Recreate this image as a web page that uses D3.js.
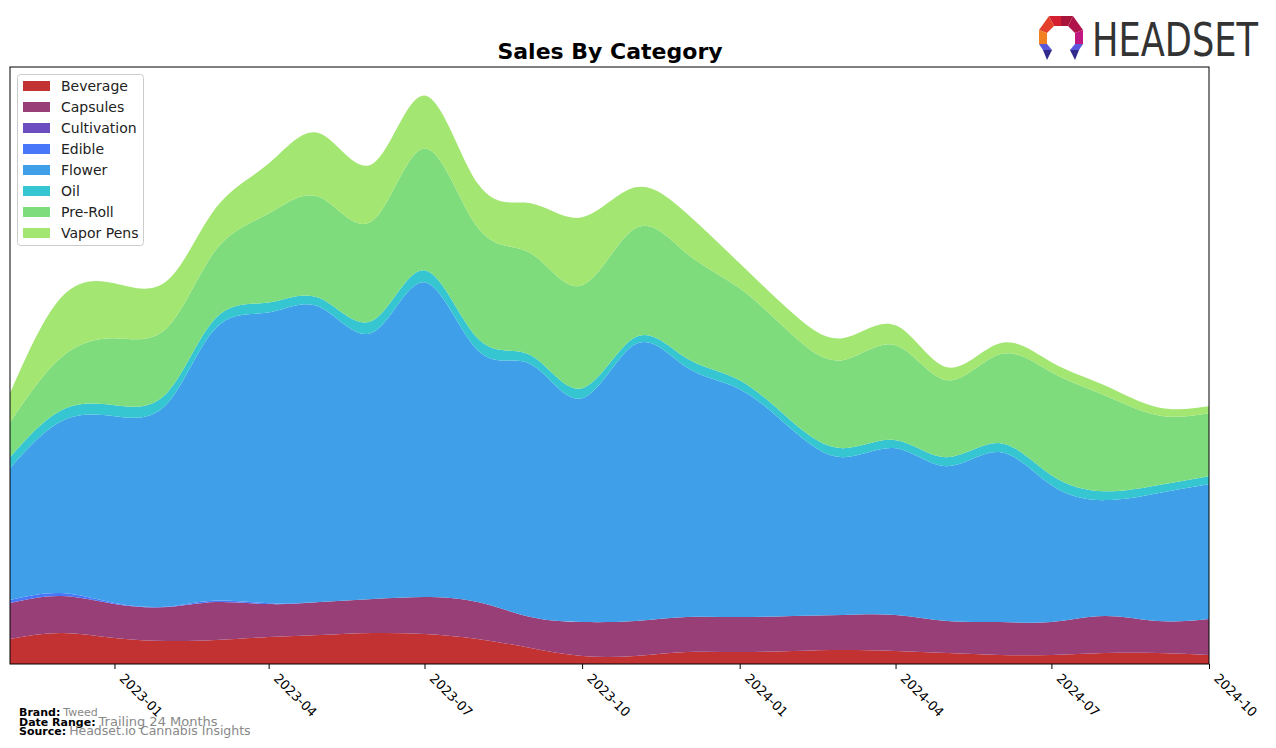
<!DOCTYPE html>
<html>
<head>
<meta charset="utf-8">
<script src="https://cdn.jsdelivr.net/npm/d3@7"></script>
<style>
  body { margin: 0; background: #fff; }
  svg { display: block; font-family: "DejaVu Sans", sans-serif; }
</style>
</head>
<body>
<svg id="chart" width="1276" height="748"></svg>
<script>
const months = ["2022-11","2022-12","2023-01","2023-02","2023-03","2023-04","2023-05","2023-06","2023-07","2023-08","2023-09","2023-10","2023-11","2023-12","2024-01","2024-02","2024-03","2024-04","2024-05","2024-06","2024-07","2024-08","2024-09","2024-10"];
const categories = ["Beverage","Capsules","Cultivation","Edible","Flower","Oil","Pre-Roll","Vapor Pens"];
const beverage    = [25,31,26,23,24,27,29,31,30,25,16,8,8,12,12,13,14,13,11,9,9,11,11,9];
const capsules    = [36,37,34,34,38,33,33,34,37,37,31,34,35,35,35,35,35,36,32,33,33,37,32,36];
const cultivation = [0,0,0,0,0,0,0,0,0,0,0,0,0,0,0,0,0,0,0,0,0,0,0,0];
const edible      = [3,3,1,0.5,1.5,0.8,0,0,0,0,0,0,0,0,0,0,0,0,0,0,0,0,0,0];
const flower      = [132,172,187,203.5,272.5,291,295,267,315,252,253,224,277,250,228,186,158,167,155,170,137,116,128,135];
const oil         = [11,11,11,11,10,10,9,12,12,12,9,10,7,9,9,8,9,8,9,9,10,9,8,8];
const preRoll     = [35,53,67,65,68,89,101,100,122,111,102,103,109,105,92,87,88,95,77,89,103,96,70,63];
const vaporPens   = [29,60,55,47,42,50,64,57,53,44,50,68,41,40,25,22,22,20,13,11,10,10,8,7];
const tickLabels  = ["2023-01","2023-04","2023-07","2023-10","2024-01","2024-04","2024-07","2024-10"];
const colors      = ["#c23232","#983f78","#6b4dc0","#4877fa","#3f9fe8","#36c6d2","#7edc7c","#a4e672"];

const seriesArrays = [beverage,capsules,cultivation,edible,flower,oil,preRoll,vaporPens];
const parse = d3.utcParse("%Y-%m");
const rows = months.map((m,i) => {
  const r = {date: parse(m)};
  categories.forEach((c,k) => r[c] = seriesArrays[k][i]);
  return r;
});

const svg = d3.select("#chart");
const L = 10, R = 1209, T = 67, B = 664;

const x = d3.scaleUtc().domain([parse(months[0]), parse(months[months.length-1])]).range([L, R]);
const layers = d3.stack().keys(categories)(rows);
const maxTotal = d3.max(rows, r => d3.sum(categories, c => r[c]));
const y = d3.scaleLinear().domain([0, maxTotal * 1.05]).range([B, T]);

const area = d3.area()
  .x(d => x(d.data.date))
  .y0(d => y(d[0]))
  .y1(d => y(d[1]))
  .curve(d3.curveNatural);

svg.append("defs").append("clipPath").attr("id","clip")
  .append("rect").attr("x",L).attr("y",T).attr("width",R-L).attr("height",B-T);

svg.append("g").attr("clip-path","url(#clip)")
  .selectAll("path").data(layers).join("path")
  .attr("d", area)
  .attr("fill", (d,i) => colors[i]);

// frame
svg.append("rect").attr("x",L).attr("y",T).attr("width",R-L).attr("height",B-T)
  .attr("fill","none").attr("stroke","#000").attr("stroke-width",1);

// x axis
const tickDates = tickLabels.map(parse);
const ax = svg.append("g").attr("transform",`translate(0,${B})`)
  .call(d3.axisBottom(x).tickValues(tickDates).tickSize(5).tickFormat((d,i)=>tickLabels[i]));
ax.select(".domain").remove();
ax.selectAll(".tick line").attr("stroke","#000");
ax.selectAll(".tick text")
  .attr("font-family","DejaVu Sans, sans-serif")
  .attr("font-size",13)
  .attr("fill","#000")
  .attr("text-anchor","start")
  .attr("x",0).attr("y",0).attr("dy","0.35em")
  .attr("transform","translate(7,12) rotate(45)");

// title
svg.append("text").attr("x",610).attr("y",59).attr("text-anchor","middle")
  .attr("font-size",22).attr("font-weight","bold").attr("fill","#000").text("Sales By Category");

// legend
const lg = svg.append("g");
lg.append("rect").attr("x",17.5).attr("y",74.5).attr("width",126).attr("height",171)
  .attr("rx",3).attr("fill","#fff").attr("fill-opacity",0.8).attr("stroke","#ccc");
categories.forEach((c,i) => {
  const yy = 86 + i*21;
  lg.append("rect").attr("x",23).attr("y",yy-5).attr("width",27).attr("height",10).attr("fill",colors[i]);
  lg.append("text").attr("x",61).attr("y",yy).attr("dy","0.35em").attr("font-size",14).attr("fill","#222").text(c);
});

// footer
const foot = [["Brand:","Tweed",11],["Date Range:","Trailing 24 Months",13],["Source:","Headset.io Cannabis Insights",12.5]];
foot.forEach((f,i) => {
  const t = svg.append("text").attr("x",19).attr("y",716 + i*9.5).attr("font-size",11);
  t.append("tspan").attr("font-weight","bold").attr("fill","#000").text(f[0]);
  t.append("tspan").attr("fill","#888").attr("font-size",f[2]).attr("dx",3).text(f[1]);
});

// logo
const logo = svg.append("g").attr("transform","translate(1061,38)");
const pts = [
  {p:"M-12,-22 L0,-22 L0,-12 L-7,-12 Z", c:"#d42030"},
  {p:"M0,-22 L12,-22 L7,-12 L0,-12 Z", c:"#a8143a"},
  {p:"M-12,-22 L-7,-12 L-14,-5 L-22,-8 Z", c:"#e4402a"},
  {p:"M-22,-8 L-14,-5 L-14,6 L-22,6 Z", c:"#f28122"},
  {p:"M12,-22 L7,-12 L14,-5 L22,-8 Z", c:"#b0124a"},
  {p:"M22,-8 L14,-5 L14,6 L22,6 Z", c:"#c0187e"},
  {p:"M-22,6 L-14,6 L-9,12 L-18,12 Z", c:"#5b57dc"},
  {p:"M-18,12 L-9,12 L-14,22 Z", c:"#2f2a8c"},
  {p:"M22,6 L14,6 L9,12 L18,12 Z", c:"#5b57dc"},
  {p:"M18,12 L9,12 L14,22 Z", c:"#2f2a8c"}
];
pts.forEach(q => logo.append("path").attr("d",q.p).attr("fill",q.c));
svg.append("text").attr("x",1092).attr("y",56).attr("font-family","Liberation Sans Narrow, DejaVu Sans Condensed, sans-serif")
  .attr("font-size",46).attr("fill","#333").attr("textLength",166).attr("lengthAdjust","spacingAndGlyphs").text("HEADSET");
</script>
</body>
</html>
